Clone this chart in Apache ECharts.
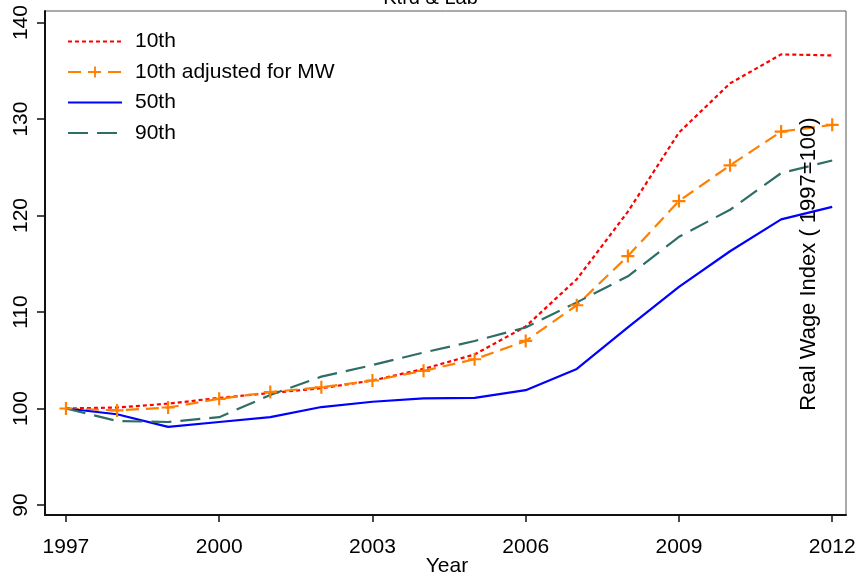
<!DOCTYPE html>
<html>
<head>
<meta charset="utf-8">
<script src="https://cdn.jsdelivr.net/npm/echarts@6/dist/echarts.min.js"></script>
<style>
  html, body { margin: 0; padding: 0; background: #fff; }
  #chart { width: 861px; height: 577px; }
</style>
</head>
<body>
<div id="chart"></div>
<script>
// Real wage index by percentile, 1997 = 100
const years = [1997, 1998, 1999, 2000, 2001, 2002, 2003, 2004, 2005, 2006, 2007, 2008, 2009, 2010, 2011, 2012];
const p10   = [100, 100.1, 100.5, 101.1, 101.6, 102.1, 102.9, 104.1, 105.6, 108.5, 113.4, 120.4, 128.6, 133.7, 136.7, 136.6];
const p10mw = [100, 99.8, 100.1, 101.0, 101.7, 102.2, 102.9, 103.9, 105.1, 107.0, 110.7, 115.8, 121.5, 125.2, 128.7, 129.4];
const p50   = [100, 99.4, 98.1, 98.6, 99.1, 100.15, 100.7, 101.05, 101.1, 101.9, 104.1, 108.4, 112.6, 116.3, 119.6, 120.9];
const p90   = [100, 98.7, 98.6, 99.1, 101.4, 103.3, 104.5, 105.8, 107.0, 108.4, 111.0, 113.7, 117.8, 120.6, 124.4, 125.7];

const xTicks = [1997, 2000, 2003, 2006, 2009, 2012];
const yTicks = [90, 100, 110, 120, 130, 140];

const seriesNames = ['10th', '10th adjusted for MW', '50th', '90th'];
const titleText = 'Ktrd & Lab';
const xTitle = 'Year';
const yTitle = 'Real Wage Index ( 1997=100)';

const FONT = 'Liberation Sans, Arial, Helvetica, sans-serif';
const PLUS = 'path://M5,0h2v5h5v2h-5v5h-2v-5h-5v-2h5z';

const pairs = arr => years.map((y, i) => [y, arr[i]]);

// legend entries: only the adjusted series carries a marker
const hiddenMark = { color: 'rgba(0,0,0,0)', opacity: 0, borderWidth: 0 };
const legendData = seriesNames.map((n, i) => i === 1 ? { name: n } : { name: n, itemStyle: hiddenMark });

const chart = echarts.init(document.getElementById('chart'), null, { renderer: 'canvas' });

chart.setOption({
  animation: false,
  backgroundColor: '#fff',
  textStyle: { fontFamily: FONT },
  title: {
    text: titleText,
    left: 'center',
    top: -17,
    textStyle: { fontFamily: FONT, fontSize: 20, fontWeight: 'normal', color: '#000' }
  },
  grid: {
    left: 45, right: 15, top: 11, bottom: 62,
    outerBoundsMode: 'none',
    containLabel: false,
    show: true, borderColor: '#555', borderWidth: 1, backgroundColor: '#fff'
  },
  legend: {
    orient: 'vertical',
    left: 62,
    top: 26,
    itemWidth: 54,
    itemHeight: 14,
    itemGap: 9.5,
    data: legendData,
    textStyle: { fontFamily: FONT, fontSize: 21, color: '#000', padding: [0, 0, 0, 8] }
  },
  xAxis: {
    type: 'value',
    min: 1996.59,
    max: 2012.27,
    axisLine: { show: true, onZero: false, lineStyle: { color: '#111', width: 2 } },
    axisTick: { show: true, length: 7, customValues: xTicks, lineStyle: { color: '#111', width: 1.5 } },
    axisLabel: {
      customValues: xTicks,
      margin: 22,
      fontFamily: FONT, fontSize: 21, color: '#000',
      formatter: v => String(v)
    },
    splitLine: { show: false }
  },
  yAxis: {
    type: 'value',
    min: 88.96,
    max: 141.2,
    axisLine: { show: true, onZero: false, lineStyle: { color: '#111', width: 2 } },
    axisTick: { show: true, length: 8, customValues: yTicks, lineStyle: { color: '#111', width: 1.5 } },
    axisLabel: {
      customValues: yTicks,
      rotate: 90,
      margin: 13,
      fontFamily: FONT, fontSize: 21, color: '#000',
      formatter: v => String(v)
    },
    splitLine: { show: false }
  },
  graphic: [
    {
      // x-axis title under the year labels
      type: 'text',
      x: 447,
      y: 566,
      style: {
        text: xTitle,
        fill: '#000',
        font: '21px ' + FONT,
        textAlign: 'center',
        textVerticalAlign: 'middle'
      }
    },
    {
      // y-axis title, set vertically inside the plot on the right
      type: 'text',
      z: 100,
      x: 809,
      y: 264,
      rotation: Math.PI / 2,
      style: {
        text: yTitle,
        fill: '#000',
        font: '22px ' + FONT,
        textAlign: 'center',
        textVerticalAlign: 'middle'
      }
    }
  ],
  series: [
    {
      name: seriesNames[0], type: 'line', data: pairs(p10),
      symbol: 'none', color: '#ff0000',
      lineStyle: { color: '#ff0000', width: 2.2, type: [4, 3] }
    },
    {
      name: seriesNames[1], type: 'line', data: pairs(p10mw),
      symbol: PLUS, symbolSize: 13, showSymbol: true, color: '#ff8000',
      itemStyle: { color: '#ff8000' },
      lineStyle: { color: '#ff8000', width: 2.2, type: [13, 7] }
    },
    {
      name: seriesNames[2], type: 'line', data: pairs(p50),
      symbol: 'none', color: '#0000ff',
      lineStyle: { color: '#0000ff', width: 2.2, type: 'solid' }
    },
    {
      name: seriesNames[3], type: 'line', data: pairs(p90),
      symbol: 'none', color: '#2e6e66',
      lineStyle: { color: '#2e6e66', width: 2.2, type: [20, 9] }
    }
  ]
});
</script>
</body>
</html>
